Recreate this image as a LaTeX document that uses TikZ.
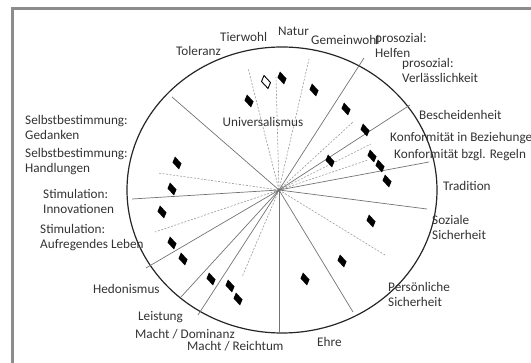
\documentclass[tikz,border=0pt]{standalone}
\usepackage{fontspec}
\setmainfont{Carlito}
\tikzset{
  frame/.style={draw=black!45,line width=2.5pt},
  rim/.style={draw=black!85,line width=1.2pt},
  sector/.style={draw=black!55,line width=0.7pt},
  split/.style={draw=black!40,line width=0.6pt,dash pattern=on 2pt off 1.5pt},
  lbl/.style={anchor=base west,inner sep=0pt,align=left,text=black!80,font=\fontsize{13.2}{15.3}\selectfont},
  rhomb/.pic={\path[pic actions] (-2,-6.5) -- (4.5,0.5) -- (2,6.5) -- (-4.5,-0.5) -- cycle;}
}
\begin{document}
\begin{tikzpicture}[x=1pt,y=-1pt]
\useasboundingbox (0,0) rectangle (531,363);
\draw[frame] (12.5,370) -- (12.5,8.5) -- (540,8.5);
\draw[rim] (282,190) ellipse [x radius=155,y radius=143];
\coordinate (hub) at (279,190);
\foreach \n/\x/\y in {a/248/68,b/276/77,c/309/59,d/353/122,e/371/144,f/368/160,g/385/255,h/242/277,i/155/232,j/158/173}
	{\coordinate (d\n) at (\x,\y); \draw[split] (hub) -- (d\n);}
\foreach \n/\x/\y in {a/172/97,b/364/58,c/410/105,d/429/162,e/427/209,f/353/312,g/279/334,h/198/315,i/181/297,j/146/268,k/132/199}
	{\coordinate (s\n) at (\x,\y); \draw[sector] (hub) -- (s\n);}
\foreach \x/\y in {282/78,249/101,314/90,346/109,365/130,330/161,372/156,380/166,387/181,371/221,342/261,305/279,177/163,172/189,162/212,172/243,183/259,211/279,230/286,238/299}
	\pic[fill=black] at (\x,\y) {rhomb};
\pic[fill=white,draw=black,line width=0.9pt] at (266,82) {rhomb};
\foreach \n/\x/\y/\t in {tier/220/42/Tierwohl,tol/176/56/Toleranz,nat/278/36/Natur,gem/311/45/Gemeinwohl,
	helf/375/58/{prosozial:\\Helfen},verl/402/83/{prosozial:\\Verlässlichkeit},besch/419/120/Bescheidenheit,
	bez/390/142/{Konformität in Beziehungen},reg/394/159/{Konformität bzgl. Regeln},trad/443/191/Tradition,
	soz/432/240/{Soziale\\Sicherheit},pers/388/307/{Persönliche\\Sicherheit},ehre/317/347/Ehre,
	reich/187/351/{Macht / Reichtum},dom/135/339/{Macht / Dominanz},leist/138/321/Leistung,
	hed/93/294/Hedonismus,auf/40/249/{Stimulation:\\Aufregendes Leben},inno/43/214/{Stimulation:\\Innovationen},
	hand/25/173/{Selbstbestimmung:\\Handlungen},ged/25/140/{Selbstbestimmung:\\Gedanken}}
	\node[lbl] (\n) at (\x,\y) {\t};
\node[lbl,anchor=base] (univ) at (263,127) {Universalismus};
\end{tikzpicture}
\end{document}
